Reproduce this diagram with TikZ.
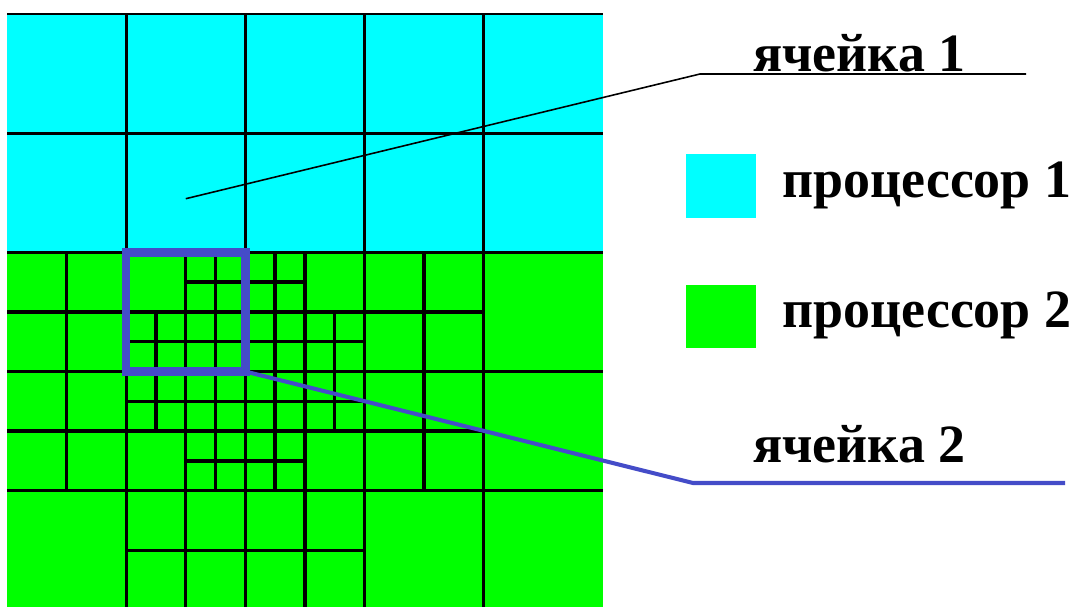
\documentclass[tikz,border=0pt]{standalone}
\usepackage{fontspec}
\setmainfont{Liberation Serif}
\usetikzlibrary{positioning}
\definecolor{procA}{RGB}{0,255,255}
\definecolor{procB}{RGB}{0,255,0}
\definecolor{cellblue}{RGB}{68,76,200}

\begin{document}
\begin{tikzpicture}[x=0.02cm, y=-0.02cm,
    mesh/.style={line width=1.9pt},
    tag/.style={font=\fontsize{30.7}{36}\selectfont\bfseries, inner sep=0pt, anchor=base west},
    swatch/.style={minimum width=1.4cm, minimum height=1.28cm, inner sep=0pt}]
    \useasboundingbox (0,0) rectangle (1075,607);

    % mesh, in units of the finest cell
    \begin{scope}[shift={(7,14)}, x=0.596cm, y=-0.596cm]
        \fill[procA] (0,0) rectangle (20,8);
        \fill[procB] (0,8) rectangle (20,20);
        \draw[line width=1pt] (0,0) -- (20,0);
        \foreach \k in {4,8,12,16} {
            \draw[mesh] (\k,0) -- (\k,20);
            \draw[mesh] (0,\k) -- (20,\k);
        }
        \foreach \i/\j in {0/2,1/2,2/2,3/2,0/3,1/3,2/3,3/3,1/4,2/4}
            \draw[mesh] ({4*\i+2},{4*\j}) -- +(0,4) ({4*\i},{4*\j+2}) -- +(4,0);
        \foreach \h/\k in {3/4,2/5,3/5,4/4,4/5,5/5,2/6,3/6,3/7,4/6,5/6,4/7}
            \draw[mesh] ({2*\h+1},{2*\k}) -- +(0,2) ({2*\h},{2*\k+1}) -- +(2,0);
        \draw[cellblue, line width=4.8pt] (4,8) rectangle (8,12);
        \coordinate (cell1) at (6,6.2);
        \coordinate (cell2) at (8,12);
    \end{scope}

    \node[swatch, fill=procA] (sq1) at (721,186) {};
    \node[tag] (proc1) at (782,198) {процессор 1};
    \node[swatch, fill=procB] (sq2) at (721,316.5) {};
    \node[tag] (proc2) at (782,328) {процессор 2};

    \node[tag] (lab1) at (753,72) {ячейка 1};
    \coordinate (bend1) at (700,74);
    \coordinate (end1) at (1026,74);
    \draw[line width=0.9pt] (cell1) -- (bend1) -- (end1);

    \node[tag] (lab2) at (753,463) {ячейка 2};
    \coordinate (bend2) at (693,483);
    \coordinate (end2) at (1065,483);
    \draw[cellblue, line width=2.3pt] (cell2) -- (bend2) -- (end2);
\end{tikzpicture}
\end{document}
